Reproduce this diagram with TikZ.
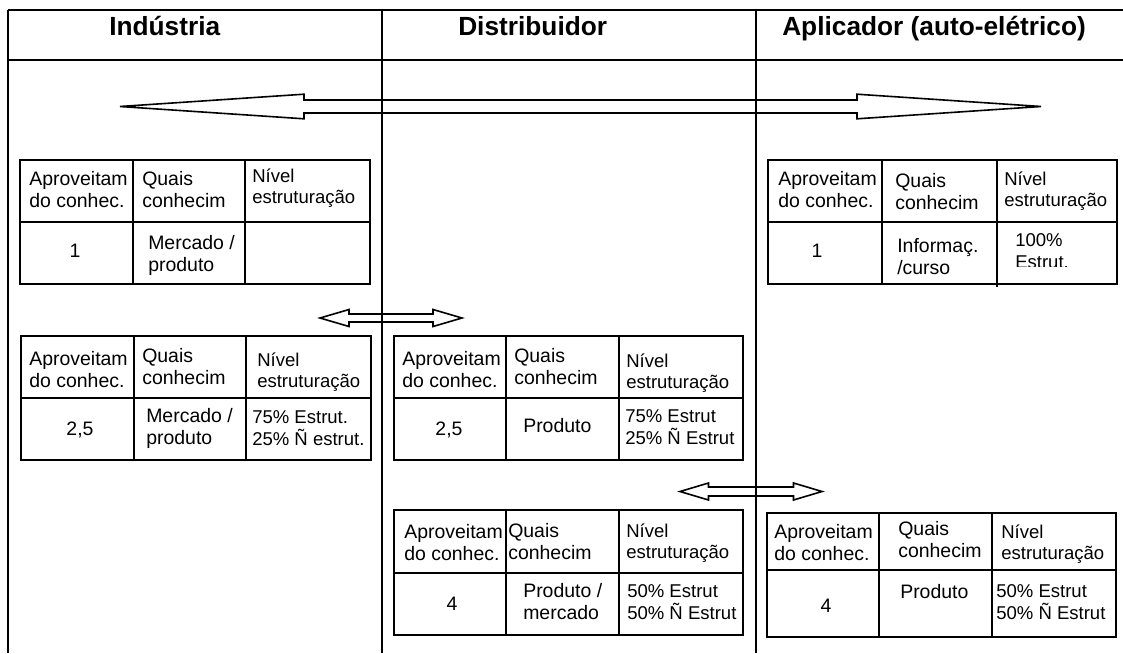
\documentclass[tikz,border=0pt]{standalone}
\usepackage{fontspec}
\setmainfont{Liberation Sans}
\newcommand\tf{\fontsize{14.6}{16.5}\selectfont}
\newcommand\tfs{\fontsize{13.9}{16}\selectfont}
\newcommand\hf{\fontsize{19.7}{23}\selectfont\bfseries}
\newcommand\cl[1]{\begin{tabular}[t]{@{}l@{}}#1\end{tabular}}
\newcommand\tablegrid[7]{%
  \draw[tabline] (#1,#5) rectangle (#4,#7) (#1,#6) -- (#4,#6) (#2,#5) -- (#2,#7) (#3,#5) -- (#3,#7);}
\newcommand\dblarr[6]{% xl xr yc headlen shafthalf headhalf
  \draw[blockarr] (#1,#3) -- (#1+#4,#3-#6) -- (#1+#4,#3-#5) -- (#2-#4,#3-#5) -- (#2-#4,#3-#6) -- (#2,#3)
   -- (#2-#4,#3+#6) -- (#2-#4,#3+#5) -- (#1+#4,#3+#5) -- (#1+#4,#3+#6) -- cycle;}
\tikzset{
  frameline/.style={line width=1.3pt},
  tabline/.style={line width=1.3pt},
  blockarr/.style={line width=1.2pt, line join=miter},
  celltxt/.style={anchor=base west, inner sep=0pt, font=\tf},
  cellsm/.style={anchor=base west, inner sep=0pt, font=\tfs},
  numtxt/.style={anchor=base, inner sep=0pt, font=\tf},
  hdr/.style={anchor=base west, inner sep=0pt, font=\hf}
}
\begin{document}
\begin{tikzpicture}[x=0.75pt,y=-0.75pt]
\useasboundingbox (0,0) rectangle (1123,653);
% frame
\draw[frameline] (8,10) -- (1123,10) (8,60) -- (1123,60) (8,10) -- (8,653) (382,10) -- (382,653) (756,10) -- (756,653);
\node[hdr] (h1) at (109,36) {Indústria};
\node[hdr] (h2) at (458,36) {Distribuidor};
\node[hdr] (h3) at (782,36) {Aplicador (auto-elétrico)};
% arrows
\dblarr{120}{1041}{106.5}{184}{6.5}{12.3}
\dblarr{320}{462}{318}{29}{4}{8.5}
\dblarr{680}{822}{491.5}{28.5}{4.5}{8.5}
% Table A
\tablegrid{20}{133}{245}{370}{160}{222}{284}
\node[celltxt] (A-ap) at (29,185) {\cl{Aproveitam\\do conhec.}};
\node[celltxt] (A-qu) at (142,185) {\cl{Quais\\conhecim}};
\node[cellsm] (A-ni) at (252,182) {\cl{Nível\\estruturação}};
\node[numtxt] (A-v1) at (75,257) {1};
\node[celltxt] (A-v2) at (148,249) {\cl{Mercado /\\produto}};
% Table B
\tablegrid{768}{882}{997}{1117}{160}{222}{284}
\draw[tabline] (997,284) -- (997,287);
\node[celltxt] (B-ap) at (778,185) {\cl{Aproveitam\\do conhec.}};
\node[celltxt] (B-qu) at (895,187) {\cl{Quais\\conhecim}};
\node[cellsm] (B-ni) at (1004,185) {\cl{Nível\\estruturação}};
\node[numtxt] (B-v1) at (817,257) {1};
\node[celltxt] (B-v2) at (897,252) {\cl{Informaç.\\/curso}};
\begin{scope}
\clip (998,223) rectangle (1116,266);
\node[anchor=base west, inner sep=0pt, font=\fontsize{13.9}{17}\selectfont] (B-v3) at (1015,246) {\cl{100\%\\Estrut.}};
\end{scope}
% Table C
\tablegrid{21}{134}{246}{371}{336}{398}{460}
\node[celltxt] (C-ap) at (29,365) {\cl{Aproveitam\\do conhec.}};
\node[celltxt] (C-qu) at (142,362) {\cl{Quais\\conhecim}};
\node[cellsm] (C-ni) at (257,366) {\cl{Nível\\estruturação}};
\node[numtxt] (C-v1) at (80,435) {2,5};
\node[celltxt] (C-v2) at (146,422) {\cl{Mercado /\\produto}};
\node[cellsm] (C-v3) at (252,423) {\cl{75\% Estrut.\\25\% Ñ estrut.}};
% Table D
\tablegrid{394}{506}{619}{743}{336}{398}{460}
\node[celltxt] (D-ap) at (402,365) {\cl{Aproveitam\\do conhec.}};
\node[celltxt] (D-qu) at (514,362) {\cl{Quais\\conhecim}};
\node[cellsm] (D-ni) at (626,367) {\cl{Nível\\estruturação}};
\node[numtxt] (D-v1) at (449,435) {2,5};
\node[celltxt] (D-v2) at (523,432) {Produto};
\node[cellsm] (D-v3) at (625,422) {\cl{75\% Estrut\\25\% Ñ Estrut}};
% Table E
\tablegrid{394}{506}{619}{743}{510}{573}{635}
\node[celltxt] (E-ap) at (404,538) {\cl{Aproveitam\\do conhec.}};
\node[celltxt] (E-qu) at (508,537) {\cl{Quais\\conhecim}};
\node[cellsm] (E-ni) at (626,537) {\cl{Nível\\estruturação}};
\node[numtxt] (E-v1) at (452,610) {4};
\node[celltxt] (E-v2) at (523,597) {\cl{Produto /\\mercado}};
\node[cellsm] (E-v3) at (627,597) {\cl{50\% Estrut\\50\% Ñ Estrut}};
% Table F
\tablegrid{767}{879}{992}{1116}{513}{570}{637}
\node[celltxt] (F-ap) at (774,538) {\cl{Aproveitam\\do conhec.}};
\node[celltxt] (F-qu) at (898,535) {\cl{Quais\\conhecim}};
\node[cellsm] (F-ni) at (1001,538) {\cl{Nível\\estruturação}};
\node[numtxt] (F-v1) at (826,612) {4};
\node[celltxt] (F-v2) at (900,598) {Produto};
\node[cellsm] (F-v3) at (996,597) {\cl{50\% Estrut\\50\% Ñ Estrut}};
\end{tikzpicture}
\end{document}
